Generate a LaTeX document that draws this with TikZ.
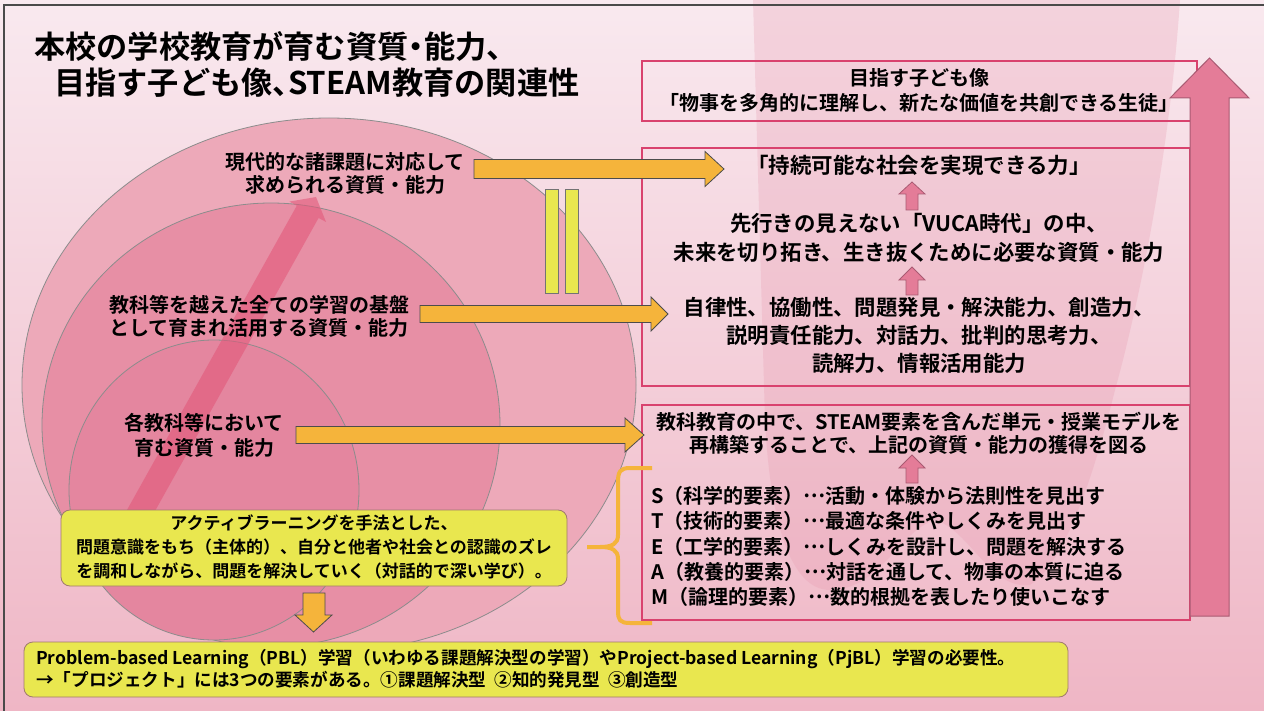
\documentclass[tikz,border=0pt]{standalone}
\usepackage{fontspec}
\setmainfont{Noto Sans CJK JP}[BoldFont={Noto Sans CJK JP Bold}]
\usetikzlibrary{calc}
\definecolor{bgtop}{HTML}{F9E9EF}
\definecolor{bgbot}{HTML}{EFB6C5}
\definecolor{ghost}{HTML}{E79AAF}
\definecolor{cA}{HTML}{EDA9B9}
\definecolor{cB}{HTML}{E78FA5}
\definecolor{cC}{HTML}{E4869F}
\definecolor{circline}{HTML}{8C8C8C}
\definecolor{diag}{HTML}{E2587A}
\definecolor{crim}{HTML}{D9426E}
\definecolor{bigpink}{HTML}{E47C98}
\definecolor{bigline}{HTML}{A95A72}
\definecolor{orng}{HTML}{F5B43B}
\definecolor{yel}{HTML}{E9E74F}
\definecolor{yelline}{HTML}{A07A6E}
\definecolor{framec}{HTML}{4A4A4A}
\newcommand\hblk[6]{% x0, xtip, y, shaft half, head half, head length
  \draw[oarr] (#1,#3-#4) -- (#2-#6,#3-#4) -- (#2-#6,#3-#5) -- (#2,#3) -- (#2-#6,#3+#5) -- (#2-#6,#3+#4) -- (#1,#3+#4) -- cycle;}
\newcommand\upar[4]{% x, ytip, ybase, ybottom
  \draw[parr] (#1-6,#4) -- (#1-6,#3) -- (#1-13,#3) -- (#1,#2) -- (#1+13,#3) -- (#1+6,#3) -- (#1+6,#4) -- cycle;}
\newcommand\hdot{\makebox[0.5em][c]{・}}
\newcommand\hcom{\makebox[0.5em][l]{、}}
\newcommand\dts{\raisebox{0.3em}{…}}
\begin{document}
\begin{tikzpicture}[x=1pt,y=-1pt,
  lbl/.style={align=center, inner sep=0pt, text=black},
  circ/.style={draw=circline, line width=0.8pt},
  crimbox/.style={draw=crim, line width=1.8pt},
  oarr/.style={fill=orng, draw=black!70, line width=0.8pt},
  parr/.style={fill=bigpink, draw=bigline, line width=0.8pt},
  ybox/.style={fill=yel, draw=yelline, line width=0.8pt, rounded corners=9pt},
  brace/.style={draw=orng, line width=4pt}]
\useasboundingbox (0,0) rectangle (1264,711);
\shade[top color=bgtop, bottom color=bgbot] (0,0) rectangle (1264,711);
% faint background shape
\fill[ghost, opacity=0.28] (753,0) -- (765,420) .. controls (770,520) and (790,590) .. (830,590)
  .. controls (880,590) and (900,530) .. (935,520) .. controls (970,530) and (990,590) .. (1030,585)
  .. controls (1070,560) and (1100,450) .. (1115,390) .. controls (1140,300) and (1170,150) .. (1180,0) -- cycle;
% frame
\draw[framec, line width=1.5pt] (4,711) -- (4,5) -- (1264,5);
% circles
\draw[circ, fill=cA] (329,385) ellipse [x radius=307pt, y radius=267pt];
\draw[circ, fill=cB] (271,425) ellipse [x radius=229pt, y radius=222pt];
\draw[circ, fill=cC] (214,490) ellipse [x radius=145pt, y radius=150pt];
% diagonal arrow
\fill[diag, opacity=0.6] (94.1,568.9) -- (296.8,205.7) -- (289.4,201.6) -- (316,197) -- (326.0,222.0) -- (318.6,217.9) -- (115.9,581.1) -- cycle;
% title
\node[lbl, anchor=west, font=\fontsize{31.2}{35}\selectfont\bfseries] (title1) at (34,46) {本校の学校教育が育む資質\hdot 能力、};
\node[lbl, anchor=west, font=\fontsize{31.2}{35}\selectfont\bfseries] (title2) at (54,83) {目指す子ども像\hcom STEAM教育の関連性};
% left labels
\node[lbl, font=\fontsize{20}{23}\selectfont\bfseries] (l1) at (345,173.5) {現代的な諸課題に対応して\\求められる資質・能力};
\node[lbl, font=\fontsize{20}{23}\selectfont\bfseries] (l2) at (259,316.5) {教科等を越えた全ての学習の基盤\\として育まれ活用する資質・能力};
\node[lbl, font=\fontsize{20}{25}\selectfont\bfseries] (l3) at (204,435.5) {各教科等において\\育む資質・能力};
% equals bars
\draw[fill=yel, draw=black!55, line width=0.8pt] (545,189) rectangle (558,293);
\draw[fill=yel, draw=black!55, line width=0.8pt] (565,189) rectangle (578,293);
% right boxes
\draw[crimbox] (642,61) rectangle (1197,121);
\draw[crimbox] (642,148) rectangle (1190,386);
\draw[crimbox] (642,405) rectangle (1190,620);
% orange arrows
\hblk{474}{724}{169}{9.5}{17.5}{19}
\hblk{420}{668}{314}{8.5}{17}{17}
\hblk{296}{644}{435}{8.5}{17}{19}
\node[lbl, font=\fontsize{20}{25}\selectfont\bfseries] (goal) at (919,90.5) {目指す子ども像\\「物事を多角的に理解し、新たな価値を共創できる生徒」};
\node[lbl, font=\fontsize{21.5}{26}\selectfont\bfseries] (sus) at (919,165) {「持続可能な社会を実現できる力」};
\node[lbl, font=\fontsize{21.4}{29}\selectfont\bfseries] (vuca) at (919,237.5) {先行きの見えない「VUCA時代」の中、\\未来を切り拓き、生き抜くために必要な資質・能力};
\node[lbl, font=\fontsize{21.4}{28}\selectfont\bfseries] (comp) at (919,335) {自律性、協働性、問題発見・解決能力、創造力、\\説明責任能力、対話力、批判的思考力、\\読解力、情報活用能力};
\node[lbl, font=\fontsize{20}{23}\selectfont\bfseries] (model) at (919,433.5) {教科教育の中で、STEAM要素を含んだ単元・授業モデルを\\再構築することで、上記の資質・能力の獲得を図る};
\node[lbl, align=left, anchor=west, font=\fontsize{20}{25.25}\selectfont\bfseries] (steam) at (651,546.5) {S（科学的要素）\dts 活動・体験から法則性を見出す\\T（技術的要素）\dts 最適な条件やしくみを見出す\\E（工学的要素）\dts しくみを設計し、問題を解決する\\A（教養的要素）\dts 対話を通して、物事の本質に迫る\\M（論理的要素）\dts 数的根拠を表したり使いこなす};
% small up arrows
\upar{912}{182}{194}{210}
\upar{912}{267}{280}{295}
\upar{912}{455}{468}{483}
% big up arrow
\draw[fill=bigpink, draw=bigline, line width=1pt] (1190,616) -- (1190,98) -- (1170,98) -- (1209.5,58) -- (1249,98) -- (1229,98) -- (1229,616) -- cycle;
% brace
\draw[brace] (652,468) -- (630,468) .. controls (620,468) and (618,472) .. (618,482) -- (618,535) .. controls (618,544) and (612,547) .. (600,547) -- (587,547);
\draw[brace] (600,547) .. controls (612,547) and (618,550) .. (618,559) -- (618,611) .. controls (618,620) and (620,623) .. (630,623) -- (652,623);
% active learning box
\draw[ybox] (61,510) rectangle (567,586);
\node[lbl, font=\fontsize{17}{24}\selectfont\bfseries] (al) at (314,547) {アクティブラーニングを手法とした、\\問題意識をもち（主体的）、自分と他者や社会との認識のズレ\\を調和しながら、問題を解決していく（対話的で深い学び）。};
% down arrow
\draw[oarr] (303,593) -- (325,593) -- (325,615) -- (332,615) -- (313.5,632) -- (295,615) -- (303,615) -- cycle;
% bottom box
\draw[ybox] (24,642) rectangle (1068,697);
\node[lbl, align=left, anchor=west, font=\fontsize{17.6}{22}\selectfont\bfseries] (pbl) at (36,669) {Problem-based Learning（PBL）学習（いわゆる課題解決型の学習）やProject-based Learning（PjBL）学習の必要性。\\→「プロジェクト」には3つの要素がある。①課題解決型\ \ ②知的発見型\ \ ③創造型};
\end{tikzpicture}
\end{document}
